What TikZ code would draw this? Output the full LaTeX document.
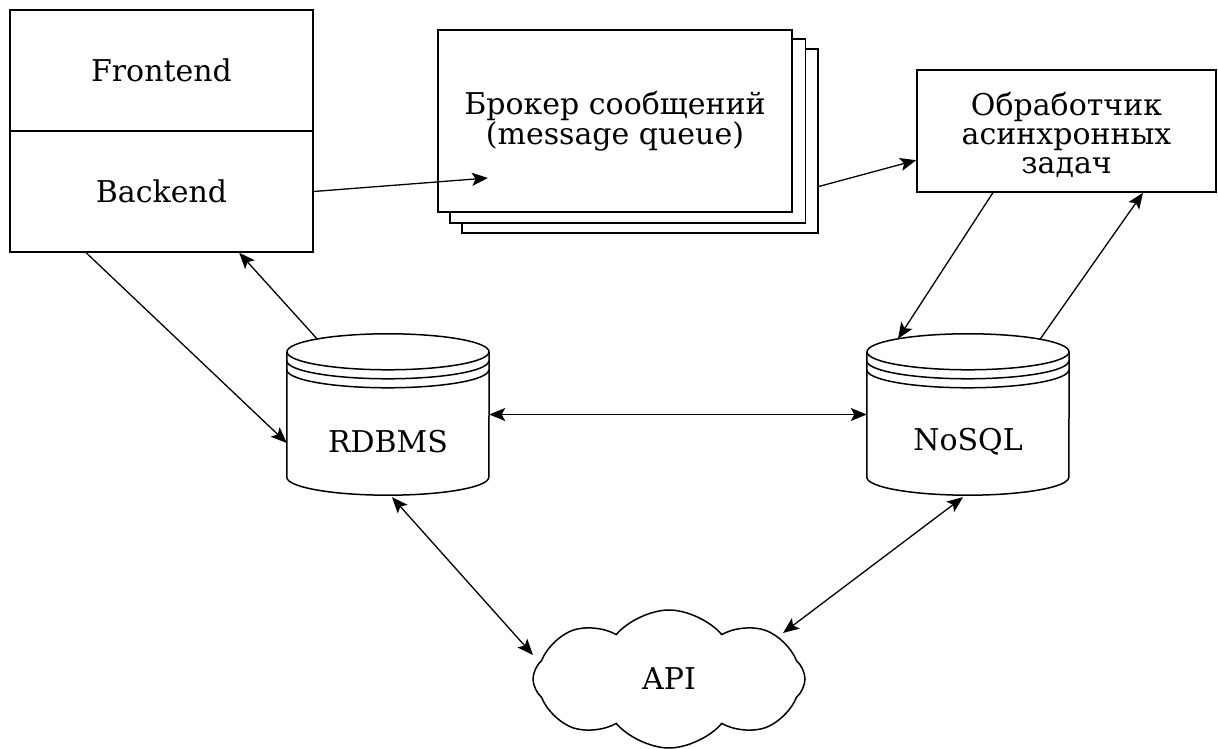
\documentclass[tikz,border=0pt]{standalone}
\usepackage{fontspec}
\setmainfont{DejaVu Serif}
\usetikzlibrary{arrows.meta,shapes.symbols,calc,backgrounds}
\begin{document}
\begin{tikzpicture}[x=1pt,y=1pt,
  txt/.style={font=\fontsize{30}{29}\selectfont, align=center},
  box/.style={txt, draw, line width=1.6pt, fill=white, inner sep=0pt},
  cyl/.style={txt, inner sep=0pt, minimum width=202pt, minimum height=161pt},
  cylline/.style={line width=1.5pt},
  tip/.style={},
  conn/.style={line width=1.3pt, -{Stealth[length=16pt,width=13pt,inset=3.5pt]}},
  dconn/.style={line width=1.3pt, {Stealth[length=16pt,width=13pt,inset=3.5pt]}-{Stealth[length=16pt,width=13pt,inset=3.5pt]}}
]
\useasboundingbox (0,0) rectangle (1218,749);

% Frontend / Backend
\node[box, minimum width=303pt, minimum height=121pt] (fe) at (161.5,678.5) {Frontend};
\node[box, minimum width=303pt, minimum height=121pt] (be) at (161.5,557.5) {Backend};

% Message broker (stack)
\node[box, minimum width=354pt, minimum height=182pt] (mq) at (615,628) {Брокер сообщений\\(message queue)};
\begin{scope}[on background layer]
  \draw[line width=1.6pt, fill=white] ($(mq.south west)+(25,-20)$) rectangle ($(mq.north east)+(25,-20)$);
  \draw[line width=1.6pt, fill=white] ($(mq.south west)+(12.5,-10)$) rectangle ($(mq.north east)+(12.5,-10)$);
\end{scope}
\coordinate (mqin) at (488,571);
\coordinate (mqout) at (817,562);

% Worker
\node[box, minimum width=299pt, minimum height=122pt] (wk) at (1066.5,618) {};
\node[txt, inner sep=0pt] (wkt) at (1066.5,614) {Обработчик\\асинхронных\\задач};

% Databases
\node[cyl] (rdb) at (388,334.5) {};
\node[cyl] (nos) at (968,334.5) {};
\foreach \n/\t in {rdb/RDBMS, nos/NoSQL}{
  \draw[cylline, fill=white] ($(\n.north west)+(0,-18)$) -- ($(\n.south west)+(0,18)$)
      arc[start angle=180, end angle=360, x radius=101, y radius=18]
      -- ($(\n.north east)+(0,-18)$);
  \draw[cylline, fill=white] ($(\n.north)+(0,-18)$) ellipse[x radius=101, y radius=18];
  \draw[cylline] ($(\n.north west)+(0,-27)$) arc[start angle=180, end angle=360, x radius=101, y radius=18];
  \draw[cylline] ($(\n.north west)+(0,-36)$) arc[start angle=180, end angle=360, x radius=101, y radius=18];
  \node[txt, inner sep=0pt] at ($(\n.center)+(0,-27)$) {\t};
}

% API cloud
\node[txt, draw, line width=1.5pt, fill=white, cloud, cloud puffs=8, cloud puff arc=100, aspect=2,
      minimum width=272pt, minimum height=138pt, inner sep=0pt] (api) at (669,70) {API};

% Connectors
\draw[conn] (be.east) -- (mqin);
\draw[conn] (mqout) -- (wk.191.7);
\draw[conn] (wk.220) -- ($(nos.north)+(-70,-5)$);
\draw[conn] ($(nos.north)+(72,-5.5)$) -- ($(wk.south)+(76.5,0)$);
\draw[conn] ($(be.south west)+(77,0)$) -- ($(rdb.west)+(0,-28.5)$);
\draw[conn] ($(rdb.north)+(-71,-5)$) -- ($(be.south west)+(230,0)$);
\draw[dconn] (rdb.east) -- (nos.west);
\draw[dconn] ($(rdb.south)+(4,-2)$) -- ($(api.center)+(-136,24)$);
\draw[dconn] ($(nos.south)+(-5,-2)$) -- ($(api.center)+(114,46)$);
\end{tikzpicture}
\end{document}
